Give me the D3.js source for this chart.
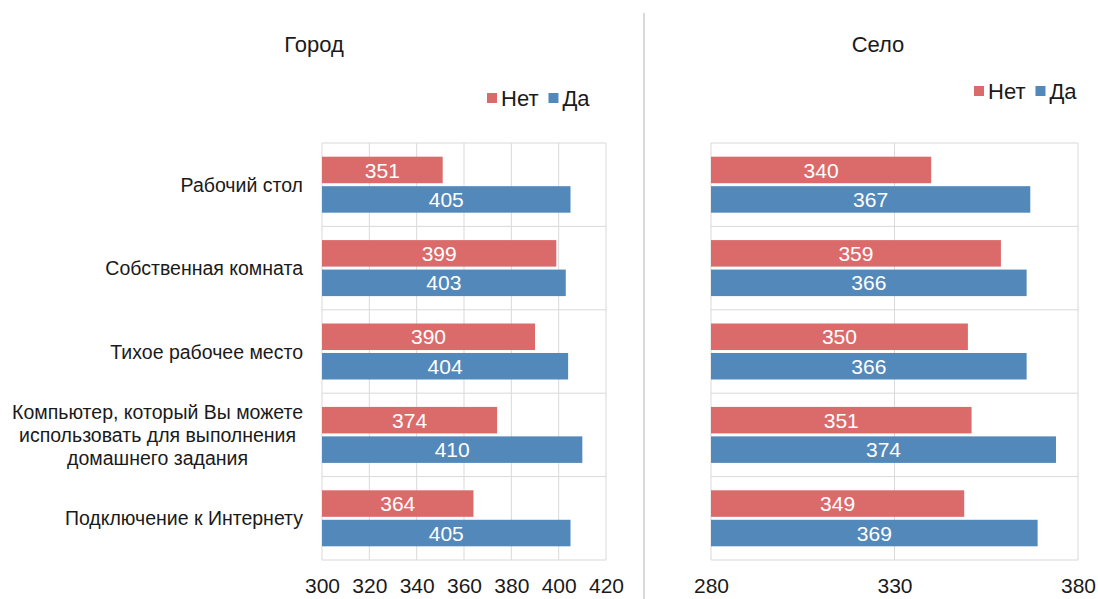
<!DOCTYPE html>
<html><head><meta charset="utf-8">
<script src="https://cdn.jsdelivr.net/npm/d3@7"></script>
<style>body{margin:0;background:#fff;}text{font-family:"Liberation Sans",Arial,sans-serif;fill:#1a1a1a;}</style>
</head><body><svg id="c" width="1098" height="599"></svg>
<script>
const categories = ["Рабочий стол","Собственная комната","Тихое рабочее место","Компьютер, который Вы можете|использовать для выполнения|домашнего задания","Подключение к Интернету"];
const seriesNames = ["Нет","Да"];
const cityNo = [351,399,390,374,364];
const cityYes = [405,403,404,410,405];
const villageNo = [340,359,350,351,349];
const villageYes = [367,366,366,374,369];
const cityTicks = [300,320,340,360,380,400,420];
const villageTicks = [280,330,380];
const colors = {"Нет":"#DB6B6B","Да":"#5389BA"};

const svg = d3.select("#c");
const plotTop = 143, plotBottom = 560;

svg.append("line").attr("x1",644).attr("x2",644).attr("y1",13).attr("y2",599)
  .attr("stroke","#d9d9d9").attr("stroke-width",2);

function panel(opt){
  const x = d3.scaleLinear().domain([opt.ticks[0], opt.ticks[opt.ticks.length-1]]).range([opt.x0, opt.x1]);
  const y = d3.scaleBand().domain(d3.range(categories.length)).range([plotTop,plotBottom]);
  const g = svg.append("g");
  g.selectAll("line.v").data(opt.ticks).join("line")
    .attr("x1",d=>x(d)).attr("x2",d=>x(d)).attr("y1",plotTop).attr("y2",plotBottom)
    .attr("stroke","#d9d9d9").attr("stroke-width",1);
  g.selectAll("line.h").data(d3.range(categories.length+1)).join("line")
    .attr("x1",opt.x0).attr("x2",opt.x1)
    .attr("y1",d=>plotTop + d*y.bandwidth()).attr("y2",d=>plotTop + d*y.bandwidth())
    .attr("stroke","#d9d9d9").attr("stroke-width",1);
  const inner = d3.scaleBand().domain(seriesNames).range([13.7, y.bandwidth()-13.7]).paddingInner(0.1);
  const rows = [];
  categories.forEach((c,i)=>{
    rows.push({i, s:"Нет", v:opt.no[i]});
    rows.push({i, s:"Да", v:opt.yes[i]});
  });
  g.selectAll("rect.bar").data(rows).join("rect")
    .attr("x",x.range()[0]).attr("y",d=>y(d.i)+inner(d.s))
    .attr("width",d=>x(d.v)-x.range()[0]).attr("height",inner.bandwidth())
    .attr("fill",d=>colors[d.s]);
  g.selectAll("text.lbl").data(rows).join("text")
    .attr("x",d=>(x.range()[0]+x(d.v))/2).attr("y",d=>y(d.i)+inner(d.s)+inner.bandwidth()/2)
    .attr("dy","0.36em").attr("text-anchor","middle").style("font-size","21px").style("fill","#fff")
    .text(d=>d.v);
  const ax = d3.axisBottom(x).tickValues(opt.ticks).tickSize(0).tickPadding(0);
  const ag = g.append("g").attr("transform",`translate(0,${plotBottom})`).call(ax);
  ag.select(".domain").remove();
  ag.selectAll("text").attr("y",25).attr("dy","0.36em").style("font-size","21px").style("fill","#1a1a1a")
    .style("font-family","'Liberation Sans',Arial,sans-serif");
  svg.append("text").attr("x",opt.titleX).attr("y",52).attr("text-anchor","middle")
    .style("font-size","22px").text(opt.title);
  const lg = svg.append("g").attr("transform",`translate(${opt.legX},${opt.legY})`);
  let off = 0;
  seriesNames.forEach(s=>{
    lg.append("rect").attr("x",off).attr("y",-5).attr("width",10).attr("height",10).attr("fill",colors[s]);
    const t = lg.append("text").attr("x",off+14).attr("y",0).attr("dy","0.36em").style("font-size","22px").text(s);
    off += 14 + t.node().getComputedTextLength() + 10;
  });
  return y;
}

const yC = panel({x0:322,x1:606,ticks:cityTicks,no:cityNo,yes:cityYes,title:"Город",titleX:314,legX:487,legY:98});
panel({x0:711,x1:1078,ticks:villageTicks,no:villageNo,yes:villageYes,title:"Село",titleX:878,legX:974,legY:91});

categories.forEach((c,i)=>{
  const lines = c.split("|");
  const cy = yC(i) + yC.bandwidth()/2;
  const lh = 23;
  const g = svg.append("g");
  const ts = lines.map((l,k)=> g.append("text")
     .attr("y", cy + (k-(lines.length-1)/2)*lh).attr("dy","0.36em")
     .style("font-size","19.5px").text(l));
  const w = d3.max(ts, t=>t.node().getComputedTextLength());
  if(lines.length===1){ ts[0].attr("x",303).attr("text-anchor","end"); }
  else ts.forEach(t=>t.attr("x",303-w/2).attr("text-anchor","middle"));
});
</script></body></html>
